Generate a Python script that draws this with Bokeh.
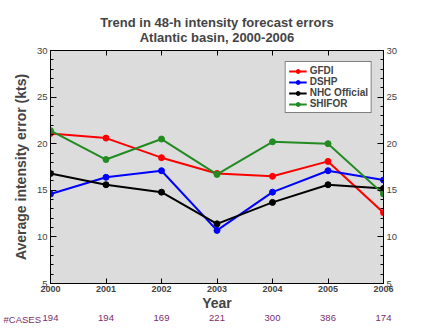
from bokeh.plotting import figure
from bokeh.models import (LinearAxis, FixedTicker, Range1d, Title, Legend, LegendItem,
                          CustomLabelingPolicy)
from bokeh.embed import file_html
from bokeh.resources import INLINE

years = [2000, 2001, 2002, 2003, 2004, 2005, 2006]
gfdi = [21.1, 20.6, 18.5, 16.8, 16.5, 18.1, 12.6]
dshp = [14.6, 16.4, 17.1, 10.7, 14.8, 17.1, 16.1]
nhc = [16.8, 15.6, 14.8, 11.4, 13.7, 15.6, 15.2]
shifor = [21.4, 18.3, 20.5, 16.7, 20.2, 20.0, 14.6]
cases = [194, 194, 169, 221, 300, 386, 174]
series = [("GFDI", gfdi, "#ff0000"), ("DSHP", dshp, "#0000ff"),
          ("NHC Official", nhc, "#000000"), ("SHIFOR", shifor, "#228b22")]
title_lines = ["Trend in 48-h intensity forecast errors", "Atlantic basin, 2000-2006"]

FONT = "Liberation Sans"
W, H = 433, 336
ML, MR, MT, MB = 50, 50, 50, 53

p = figure(width=W, height=H, output_backend="svg", toolbar_location=None,
           x_range=Range1d(2000, 2006), y_range=Range1d(5, 30),
           x_axis_location=None, y_axis_location=None, title_location=None,
           min_border_left=ML, min_border_right=MR, min_border_top=MT, min_border_bottom=MB)
p.background_fill_color = "#dcdcdc"
p.border_fill_color = "white"
p.outline_line_color = "black"
p.outline_line_width = 1
p.xgrid.visible = False
p.ygrid.visible = False

def style_y(ax, label=None):
    ax.ticker = FixedTicker(ticks=[5, 10, 15, 20, 25, 30],
                            minor_ticks=list(range(5, 31)))
    ax.major_tick_in = 6
    ax.major_tick_out = 0
    ax.minor_tick_in = 3
    ax.minor_tick_out = 0
    ax.major_label_text_font = FONT
    ax.major_label_text_font_size = "9.5px"
    ax.major_label_standoff = 3
    ax.axis_line_color = "black"
    if label:
        ax.axis_label = label
        ax.axis_label_text_font = FONT
        ax.axis_label_text_font_size = "14px"
        ax.axis_label_text_font_style = "bold"
        ax.axis_label_standoff = 5

yl = LinearAxis()
style_y(yl, "Average intensity error (kts)")
p.add_layout(yl, "left")
yr = LinearAxis()
style_y(yr)
p.add_layout(yr, "right")

xb = LinearAxis(ticker=FixedTicker(ticks=years, minor_ticks=[]))
xb.major_tick_in = 5
xb.major_tick_out = 0
xb.major_label_text_font = FONT
xb.major_label_text_font_size = "9px"
xb.major_label_text_font_style = "bold"
xb.major_label_standoff = 2
xb.axis_label = "Year"
xb.axis_label_text_font = FONT
xb.axis_label_text_font_size = "14px"
xb.axis_label_text_font_style = "bold"
xb.axis_label_standoff = 0
p.add_layout(xb, "below")

xc = LinearAxis(ticker=FixedTicker(ticks=years, minor_ticks=[]))
xc.major_label_overrides = {y: str(c) for y, c in zip(years, cases)}
xc.axis_line_color = None
xc.major_tick_line_color = None
xc.minor_tick_line_color = None
xc.major_tick_in = 0
xc.major_tick_out = 0
xc.major_label_text_font = FONT
xc.major_label_text_font_size = "9.5px"
xc.major_label_text_color = "#7b2d6b"
xc.major_label_standoff = 1
p.add_layout(xc, "below")

tc = Title(text="#CASES", align="left", offset=-47, standoff=-19, vertical_align="top",
           text_font=FONT, text_font_size="9.5px", text_font_style="normal",
           text_color="#7b2d6b", text_line_height=1.0)
p.add_layout(tc, "below")

xt = LinearAxis(ticker=FixedTicker(ticks=years, minor_ticks=[]))
xt.major_tick_in = 5
xt.major_tick_out = 0
xt.major_label_policy = CustomLabelingPolicy(code="return new Set()")
xt.major_label_text_font_size = "1px"
xt.major_label_standoff = 0
p.add_layout(xt, "above")

t2 = Title(text=title_lines[1], align="center", text_font=FONT, text_line_height=1.0,
           text_font_size="13px", text_font_style="bold", standoff=4)
p.add_layout(t2, "above")
t1 = Title(text=title_lines[0], align="center", text_font=FONT, text_line_height=1.0,
           text_font_size="13px", text_font_style="bold", standoff=-8)
p.add_layout(t1, "above")

items = []
for name, vals, col in series:
    r1 = p.line(years, vals, line_color=col, line_width=2)
    r2 = p.scatter(years, vals, size=6, fill_color=col, line_color=col)
    items.append(LegendItem(label=name, renderers=[r1, r2]))

leg = Legend(items=items, location="top_right")
leg.label_text_font = FONT
leg.label_text_font_size = "10px"
leg.label_text_font_style = "bold"
leg.label_height = 10
leg.glyph_height = 10
leg.glyph_width = 18
leg.spacing = 0
leg.padding = 3
leg.margin = 11
leg.label_standoff = 3
leg.border_line_color = "black"
leg.border_line_width = 1
leg.background_fill_color = "white"
leg.background_fill_alpha = 1
p.add_layout(leg)

open("out.html", "w").write(file_html(p, INLINE))
